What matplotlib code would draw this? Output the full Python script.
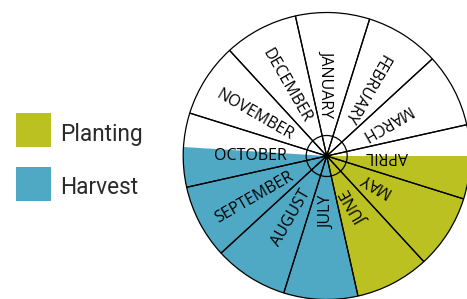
import matplotlib
matplotlib.use("Agg")
import matplotlib.pyplot as plt
from matplotlib.patches import Circle, Rectangle
import numpy as np

# ---- data ----
months = ["JANUARY", "FEBRUARY", "MARCH", "APRIL", "MAY", "JUNE",
          "JULY", "AUGUST", "SEPTEMBER", "OCTOBER", "NOVEMBER", "DECEMBER"]
month_share = [1] * 12
# season spans, in months counted clockwise from the start of January
planting_start = 3.42
planting_end = 6.0
harvest_end = 9.54
season_names = ["Planting", "Harvest"]
season_colors = ["#bbc121", "#4fa9c4"]

W, H = 467, 299
fig = plt.figure(figsize=(W / 100, H / 100), dpi=100)
ax = fig.add_axes([0, 0, 1, 1])

cx, cy = 326.7, H - 156.0
R = 143.5
start = 102.6

# coloured season sectors
season_vals = [planting_start, planting_end - planting_start,
               harvest_end - planting_end, 12 - harvest_end]
ax.pie(season_vals, startangle=start, counterclock=False,
       colors=["none", season_colors[0], season_colors[1], "none"],
       center=(cx, cy), radius=R, wedgeprops=dict(linewidth=0))

# month wheel outlines
ax.pie(month_share, startangle=start, counterclock=False,
       colors=["none"] * 12, center=(cx, cy), radius=R,
       wedgeprops=dict(edgecolor="black", linewidth=0.9))

ax.add_patch(Circle((cx, cy), 20.5, fill=False, edgecolor="black", linewidth=0.9))
ax.add_patch(Circle((cx, cy), 2.2, color="black"))

# month labels
r_in = 39.5
for k, m in enumerate(months):
    ang = 90 - 30 * k
    a = np.deg2rad(ang)
    x = cx + r_in * np.cos(a)
    y = cy + r_in * np.sin(a)
    rot = (ang + 180) % 360
    ax.text(x, y, m, rotation=rot, rotation_mode="anchor", ha="right",
            va="center", fontsize=11.5, family="Open Sans", color="#000000")

# legend
sq_y = [H - 147.3, H - 200.7]
base_y = [H - 140.7, H - 193.5]
for name, col, sy, by in zip(season_names, season_colors, sq_y, base_y):
    ax.add_patch(Rectangle((16, sy), 34.5, 34, color=col, linewidth=0))
    ax.text(60, by, name, ha="left", va="baseline", fontsize=16.3,
            family="Roboto", weight="normal", color="#2a2a2a")

ax.set_xlim(0, W)
ax.set_ylim(0, H)
ax.set_aspect("equal")
ax.axis("off")
fig.savefig("out.png", dpi=100)
